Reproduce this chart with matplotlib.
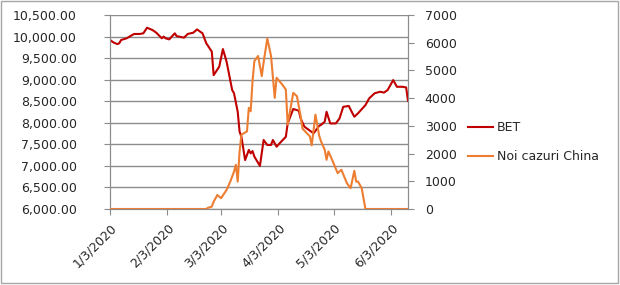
import pandas as pd
import matplotlib
matplotlib.use('Agg')
import matplotlib.pyplot as plt
import matplotlib.dates as mdates
from matplotlib.patches import Rectangle
from matplotlib.ticker import FuncFormatter, MultipleLocator

# BET index (left axis)
bet_dates = ['2020-01-03', '2020-01-05', '2020-01-07', '2020-01-08', '2020-01-09', '2020-01-12',
             '2020-01-16', '2020-01-19', '2020-01-21', '2020-01-23', '2020-01-26', '2020-01-28',
             '2020-01-31', '2020-02-01', '2020-02-02', '2020-02-04', '2020-02-07', '2020-02-08',
             '2020-02-12', '2020-02-14', '2020-02-17', '2020-02-19', '2020-02-22', '2020-02-24',
             '2020-02-27', '2020-02-28', '2020-03-02', '2020-03-04', '2020-03-06', '2020-03-09',
             '2020-03-10', '2020-03-12', '2020-03-13', '2020-03-14', '2020-03-16', '2020-03-18',
             '2020-03-19', '2020-03-20', '2020-03-21', '2020-03-24', '2020-03-26', '2020-03-28',
             '2020-03-30', '2020-03-31', '2020-04-02', '2020-04-04', '2020-04-07', '2020-04-08',
             '2020-04-11', '2020-04-14', '2020-04-15', '2020-04-17', '2020-04-22', '2020-04-25',
             '2020-04-26', '2020-04-28', '2020-04-29', '2020-05-01', '2020-05-04', '2020-05-06',
             '2020-05-08', '2020-05-11', '2020-05-13', '2020-05-14', '2020-05-16', '2020-05-20',
             '2020-05-22', '2020-05-25', '2020-05-28', '2020-05-30', '2020-06-01', '2020-06-04',
             '2020-06-06', '2020-06-09', '2020-06-11', '2020-06-12']
bet_values = [9920, 9860, 9825, 9845, 9920, 9960,
              10060, 10060, 10075, 10205, 10150, 10090,
              9960, 10000, 9960, 9935, 10075, 10010,
              9975, 10060, 10090, 10165, 10075, 9845,
              9650, 9105, 9300, 9710, 9415, 8760,
              8685, 8255, 7795, 7675, 7135, 7370,
              7290, 7345, 7215, 7000, 7600, 7485,
              7485, 7600, 7445, 7540, 7675, 7985,
              8320, 8280, 8100, 7910, 7755, 7930,
              7950, 8025, 8255, 7985, 7985, 8100,
              8370, 8390, 8220, 8140, 8220, 8410,
              8565, 8685, 8720, 8700, 8760, 8990,
              8835, 8835, 8820, 8510]

# Noi cazuri China (right axis)
china_dates = ['2020-01-03', '2020-02-24', '2020-02-25', '2020-02-27', '2020-02-28', '2020-03-01',
               '2020-03-03', '2020-03-06', '2020-03-08', '2020-03-10', '2020-03-11', '2020-03-12',
               '2020-03-13', '2020-03-14', '2020-03-17', '2020-03-18', '2020-03-19', '2020-03-20',
               '2020-03-21', '2020-03-23', '2020-03-25', '2020-03-26', '2020-03-28', '2020-03-30',
               '2020-04-01', '2020-04-02', '2020-04-05', '2020-04-07', '2020-04-08', '2020-04-11',
               '2020-04-13', '2020-04-15', '2020-04-16', '2020-04-20', '2020-04-21', '2020-04-23',
               '2020-04-25', '2020-04-26', '2020-04-28', '2020-04-29', '2020-04-30', '2020-05-02',
               '2020-05-05', '2020-05-07', '2020-05-10', '2020-05-12', '2020-05-14', '2020-05-15',
               '2020-05-16', '2020-05-18', '2020-05-20', '2020-06-12']
china_values = [0, 0, 45, 85, 265, 505,
                390, 690, 990, 1350, 1595, 990,
                2075, 2680, 2800, 3650, 3525, 4610,
                5335, 5520, 4795, 5300, 6150, 5520,
                4010, 4735, 4495, 4310, 3045, 4190,
                4070, 3345, 2900, 2620, 2300, 3405,
                2650, 2440, 2140, 1775, 2076, 1775,
                1295, 1415, 930, 750, 1380, 990,
                990, 750, 0, 0]

tick_dates = ['2020-01-03', '2020-02-03', '2020-03-03', '2020-04-03', '2020-05-03', '2020-06-03']
tick_labels = ['1/3/2020', '2/3/2020', '3/3/2020', '4/3/2020', '5/3/2020', '6/3/2020']

plt.rcParams['font.family'] = ['DejaVu Sans']
plt.rcParams['font.size'] = 9

bet_x = pd.to_datetime(bet_dates)
china_x = pd.to_datetime(china_dates)

fig = plt.figure(figsize=(6.2, 2.85), dpi=100)
ax = fig.add_axes([110 / 620, 1 - 209 / 285, 298 / 620, 194 / 285])
ax2 = ax.twinx()

grid_col = '#8c8c8c'
text_col = '#262626'

ax.plot(bet_x, bet_values, color='#c00000', lw=1.5, label='BET', zorder=3)
ax2.plot(china_x, china_values, color='#ed7d31', lw=1.5, label='Noi cazuri China', zorder=3)

ax.set_xlim(bet_x[0], bet_x[-1])
ax.set_ylim(6000, 10500)
ax.yaxis.set_major_locator(MultipleLocator(500))
ax.yaxis.set_major_formatter(FuncFormatter(lambda v, p: f'{v:,.2f}'))
ax.grid(axis='y', color=grid_col, lw=1)
ax.set_axisbelow(True)

ax2.set_ylim(0, 7000)
ax2.yaxis.set_major_locator(MultipleLocator(1000))

ax.set_xticks(pd.to_datetime(tick_dates))
ax.set_xticklabels(tick_labels, rotation=45, ha='right', rotation_mode='anchor')

for a in (ax, ax2):
    for s in a.spines.values():
        s.set_color(grid_col)
    a.spines['top'].set_visible(False)

ax.tick_params(axis='y', length=4, color=grid_col, pad=20, labelcolor=text_col)
ax.tick_params(axis='x', length=4, color=grid_col, pad=5, labelcolor=text_col)
ax2.tick_params(axis='y', length=4, color=grid_col, pad=8, labelcolor=text_col)

h1, l1 = ax.get_legend_handles_labels()
h2, l2 = ax2.get_legend_handles_labels()
fig.legend(h1 + h2, l1 + l2, loc='center left', bbox_to_anchor=(468 / 620, 1 - 142 / 285),
           frameon=False, borderpad=0, borderaxespad=0, handlelength=2.0,
           handletextpad=0.3, labelspacing=1.3, labelcolor=text_col)

fig.patches.append(Rectangle((0.001, 0.006), 0.996, 0.99, transform=fig.transFigure,
                             fill=False, edgecolor='#a6a6a6', lw=1))

fig.savefig('out.png', dpi=100)
